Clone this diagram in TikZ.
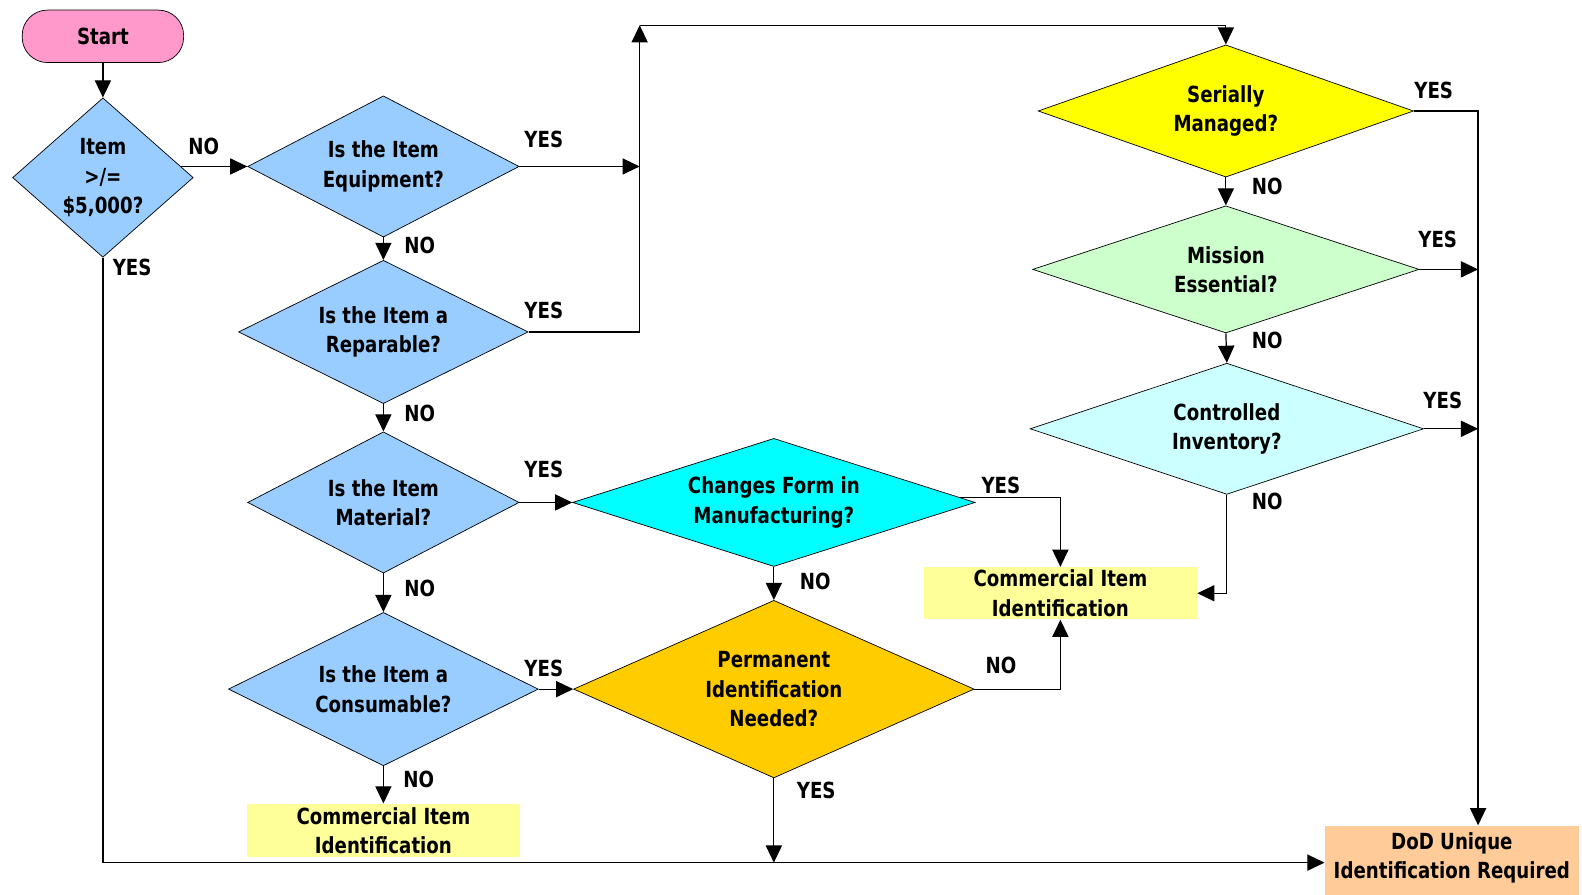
\documentclass[tikz,border=0pt]{standalone}
\usepackage{fontspec}
\setmainfont{DejaVu Sans}[FakeStretch=0.82]
\usetikzlibrary{shapes.geometric,arrows.meta,backgrounds}

\definecolor{startpink}{HTML}{FF99CC}
\definecolor{qblue}{HTML}{99CCFF}
\definecolor{formcyan}{HTML}{00FFFF}
\definecolor{permgold}{HTML}{FFCC00}
\definecolor{serialyel}{HTML}{FFFF00}
\definecolor{missgreen}{HTML}{CCFFCC}
\definecolor{ctrlcyan}{HTML}{CCFFFF}
\definecolor{ciyellow}{HTML}{FFFF99}
\definecolor{dodorange}{HTML}{FFCC99}

\tikzset{
  txt/.style={font=\bfseries\fontsize{22}{29}\selectfont},
  decision/.style={diamond, draw=black, line width=0.7pt, inner sep=0pt, align=center, txt},
  outcome/.style={rectangle, inner sep=0pt, align=center, txt},
  lbl/.style={txt},
  flow/.style={line width=1.2pt, -{Triangle[length=17pt,width=16pt]}}
}

\begin{document}
\begin{tikzpicture}[x=1pt,y=-1pt]
  \useasboundingbox (0,0) rectangle (1568,887);

  % Start
  \node[rectangle, rounded corners=25pt, draw=black, line width=0.7pt, fill=startpink,
        minimum width=160pt, minimum height=52pt, txt] (start) at (102,36) {Start};

  % left column of questions
  \node[decision, fill=qblue, minimum width=179pt, minimum height=158pt, aspect=1.13] (cost) at (102,176) {Item\\>/=\\\$5,000?};
  \node[decision, fill=qblue, minimum width=269pt, minimum height=140pt, aspect=1.92] (equip) at (380,165) {Is the Item\\Equipment?};
  \node[decision, fill=qblue, minimum width=287pt, minimum height=142pt, aspect=2.02] (repar) at (380,329) {Is the Item a\\Reparable?};
  \node[decision, fill=qblue, minimum width=269pt, minimum height=140pt, aspect=1.92] (mater) at (380,498) {Is the Item\\Material?};
  \node[decision, fill=qblue, minimum width=307pt, minimum height=152pt, aspect=2.02] (consum) at (380,683) {Is the Item a\\Consumable?};
  \node[outcome, fill=ciyellow, minimum width=270pt, minimum height=53pt] (ci1) at (380,823) {Commercial Item\\Identification};

  % middle column
  \node[decision, fill=formcyan, minimum width=399pt, minimum height=127pt, aspect=3.14] (chgform) at (767,498) {Changes Form in\\Manufacturing?};
  \node[decision, fill=permgold, minimum width=397pt, minimum height=176pt, aspect=2.26] (perm) at (767,683) {Permanent\\Identification\\Needed?};
  \node[outcome, fill=ciyellow, minimum width=271pt, minimum height=52pt] (ci2) at (1051,588) {Commercial Item\\Identification};

  % right column
  \node[decision, fill=serialyel, minimum width=372pt, minimum height=131pt, aspect=2.84] (serial) at (1215,110) {Serially\\Managed?};
  \node[decision, fill=missgreen, minimum width=383pt, minimum height=126pt, aspect=3.04] (mission) at (1215,267) {Mission\\Essential?};
  \node[decision, fill=ctrlcyan, minimum width=390pt, minimum height=130pt, aspect=3.0] (ctrl) at (1216,425) {Controlled\\Inventory?};
  \node[outcome, fill=dodorange, minimum width=252pt, inner ysep=7pt, text depth=40pt, anchor=north] (dod) at (1439,818) {DoD Unique\\Identification Required};

  \coordinate (jn) at (634,25);
  \coordinate (rail) at (1465,110);
  \coordinate (base) at (100,855);

  \begin{scope}[on background layer]
    \draw[flow] (start.south) -- (cost.north);
    \draw[flow] (cost.center |- equip.west) -- (equip.west);
    \draw[flow] (cost.south) |- (dod.west |- base);
    \draw[flow] (equip.south) -- (repar.north);
    \draw[flow] (equip.east) -- (equip.east -| jn);
    \draw[flow] (repar.east) -| (jn);
    \draw[flow] (jn) -| (serial.north);
    \draw[flow] (repar.south) -- (mater.north);
    \draw[flow] (mater.east) -- (chgform.west);
    \draw[flow] (mater.south) -- (consum.north);
    \draw[flow] (consum.east) -- (perm.west);
    \draw[flow] (consum.south) -- (ci1.north);
    \draw[flow] ([yshift=5pt]chgform.center) -| (ci2.north);
    \draw[flow] (chgform.south) -- (perm.north);
    \draw[flow] (perm.east) -| (ci2.south);
    \draw[flow] (perm.south) -- (perm.south |- base);
    \draw[flow] (serial.east) -| (rail |- dod.north);
    \draw[flow] (serial.south) -- (mission.north);
    \draw[flow] (mission.east) -- (mission.east -| rail);
    \draw[flow] (mission.south) -- (ctrl.north);
    \draw[flow] (ctrl.east) -- (ctrl.east -| rail);
    \draw[flow] (ctrl.south) |- (ci2.east);
  \end{scope}

  % answers
  \node[lbl] (costno) at (202,145) {NO};
  \node[lbl] (costyes) at (131,265) {YES};
  \node[lbl] (equipyes) at (539,138) {YES};
  \node[lbl] (equipno) at (416,243) {NO};
  \node[lbl] (reparyes) at (539,308) {YES};
  \node[lbl] (reparno) at (416,410) {NO};
  \node[lbl] (materyes) at (539,465) {YES};
  \node[lbl] (materno) at (416,583) {NO};
  \node[lbl] (consumyes) at (539,662) {YES};
  \node[lbl] (consumno) at (415,773) {NO};
  \node[lbl] (chgformyes) at (992,481) {YES};
  \node[lbl] (chgformno) at (808,576) {NO};
  \node[lbl] (permno) at (992,660) {NO};
  \node[lbl] (permyes) at (809,783) {YES};
  \node[lbl] (serialyes) at (1421,90) {YES};
  \node[lbl] (serialno) at (1256,185) {NO};
  \node[lbl] (missionyes) at (1425,237) {YES};
  \node[lbl] (missionno) at (1256,337) {NO};
  \node[lbl] (ctrlyes) at (1430,397) {YES};
  \node[lbl] (ctrlno) at (1256,497) {NO};
\end{tikzpicture}
\end{document}
